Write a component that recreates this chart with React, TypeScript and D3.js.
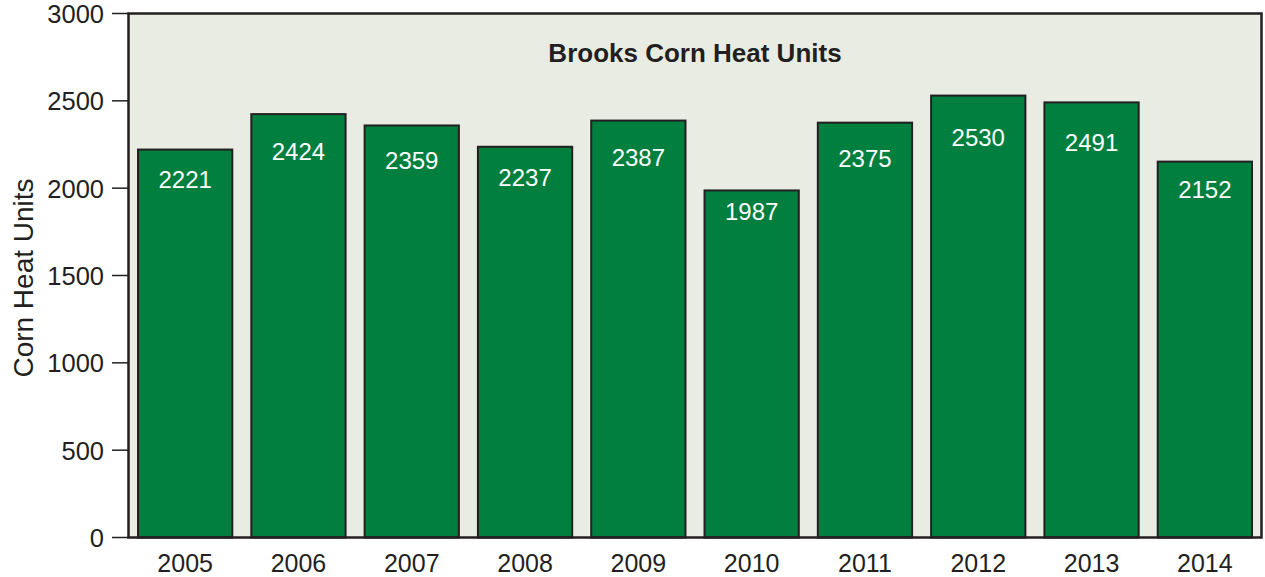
import React from "react";
import * as d3 from "d3";

const years = ["2005", "2006", "2007", "2008", "2009", "2010", "2011", "2012", "2013", "2014"];
const heatUnits = [2221, 2424, 2359, 2237, 2387, 1987, 2375, 2530, 2491, 2152];
const yTicks = [0, 500, 1000, 1500, 2000, 2500, 3000];

const W = 1265;
const H = 577;
const left = 128.5;
const right = 1261.5;
const top = 13.5;
const bottom = 537.5;
const font = "'Liberation Sans', Arial, Helvetica, sans-serif";

export default function App() {
  const x = d3.scaleBand().domain(years).range([left, right]).paddingInner(0.168).paddingOuter(0.084);
  const y = d3.scaleLinear().domain([0, 3000]).range([bottom, top]);
  // value labels sit inside the bars on a slightly compressed scale
  const labelY = d3.scaleLinear().domain([0, 3000]).range([bottom - 46.7, top + 68.5]);
  return (
    <svg width={W} height={H} style={{ position: "absolute", left: 0, top: 0 }} fontFamily={font}>
      <rect x={left} y={top} width={right - left} height={bottom - top} fill="#e9ece3" />
      {years.map((yr, i) => (
        <g key={yr}>
          <rect
            x={x(yr)}
            y={y(heatUnits[i])}
            width={x.bandwidth()}
            height={bottom - y(heatUnits[i])}
            fill="#007f3f"
            stroke="#231f20"
            strokeWidth={2}
          />
          <text x={(x(yr) as number) + x.bandwidth() / 2} y={labelY(heatUnits[i])} fill="#fff" fontSize={24} textAnchor="middle">
            {heatUnits[i]}
          </text>
          <text x={(x(yr) as number) + x.bandwidth() / 2} y={572} fill="#231f20" fontSize={25} textAnchor="middle">
            {yr}
          </text>
        </g>
      ))}
      <rect x={left} y={top} width={right - left} height={bottom - top} fill="none" stroke="#231f20" strokeWidth={2.5} />
      {yTicks.map((t) => (
        <g key={t}>
          <line x1={112} x2={left} y1={y(t)} y2={y(t)} stroke="#231f20" strokeWidth={1.5} />
          <text x={104} y={y(t) + 9.5} fontSize={25.5} textAnchor="end" fill="#231f20">
            {t}
          </text>
        </g>
      ))}
      <text x={(left + right) / 2} y={62} fontSize={26} fontWeight="bold" textAnchor="middle" fill="#231f20">
        Brooks Corn Heat Units
      </text>
      <text transform={`translate(33, 278) rotate(-90)`} fontSize={28} textAnchor="middle" fill="#231f20">
        Corn Heat Units
      </text>
    </svg>
  );
}
